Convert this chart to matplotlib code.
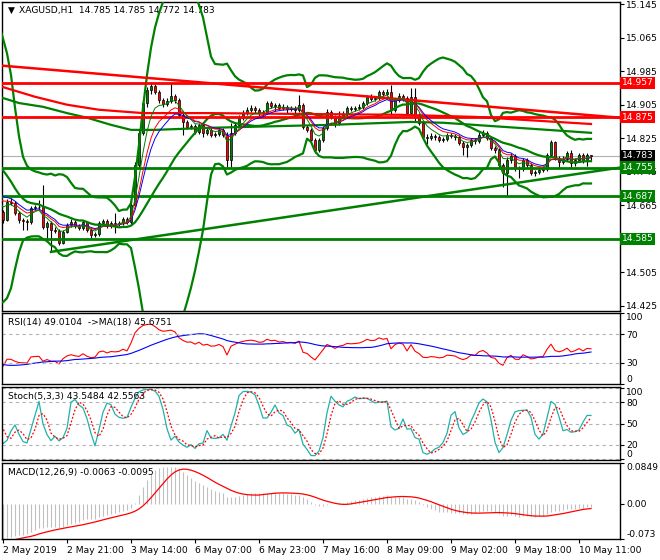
import numpy as np
import pandas as pd
import matplotlib.pyplot as plt

# bars before the visible window (1-2 May), only used to warm up the indicators
pre_close = [15.00, 15.01, 14.99, 15.00, 15.02, 15.01, 15.03, 15.02, 15.01, 15.00,
             14.99, 15.01, 15.00, 14.98, 14.99, 14.97, 14.98, 14.96, 14.97, 14.96,
             14.95, 14.93, 14.95, 14.97, 14.91, 14.84, 14.77, 14.72,
             14.70, 14.69, 14.71, 14.69, 14.68, 14.70, 14.69, 14.67, 14.68, 14.70, 14.69, 14.649]
pre_high = [15.01, 15.02, 15.02, 15.01, 15.03, 15.03, 15.04, 15.03, 15.02, 15.01,
            15.00, 15.02, 15.02, 15.00, 15.00, 14.99, 14.99, 14.98, 14.98, 14.97,
            14.97, 14.96, 14.97, 15.00, 14.97, 14.91, 14.84, 14.78,
            14.73, 14.71, 14.72, 14.72, 14.70, 14.71, 14.71, 14.70, 14.69, 14.71, 14.71, 14.70]
pre_low = [14.99, 15.00, 14.98, 14.99, 15.00, 15.00, 15.01, 15.01, 15.00, 14.99,
           14.98, 14.98, 14.99, 14.97, 14.97, 14.96, 14.96, 14.95, 14.95, 14.95,
           14.94, 14.92, 14.92, 14.94, 14.89, 14.82, 14.75, 14.70,
           14.68, 14.67, 14.68, 14.68, 14.67, 14.67, 14.68, 14.66, 14.66, 14.67, 14.68, 14.64]

# visible H1 bars, 2 May 05:00 .. 10 May 14:00
close = [14.630, 14.673, 14.671, 14.647, 14.630, 14.628, 14.625, 14.659, 14.661, 14.662,
         14.614, 14.623, 14.606, 14.604, 14.575, 14.602, 14.618, 14.625, 14.616, 14.611,
         14.625, 14.606, 14.594, 14.597, 14.623, 14.628, 14.616, 14.623, 14.621, 14.623,
         14.633, 14.625, 14.666, 14.761, 14.838, 14.909, 14.940, 14.950, 14.936, 14.916,
         14.907, 14.914, 14.926, 14.916, 14.881, 14.864, 14.852, 14.854, 14.840, 14.857,
         14.838, 14.845, 14.833, 14.835, 14.845, 14.833, 14.773, 14.838, 14.857, 14.874,
         14.885, 14.893, 14.897, 14.893, 14.885, 14.888, 14.909, 14.902, 14.905, 14.897,
         14.900, 14.895, 14.897, 14.893, 14.905, 14.852, 14.845, 14.821, 14.797, 14.821,
         14.850, 14.888, 14.876, 14.862, 14.878, 14.883, 14.897, 14.895, 14.897, 14.900,
         14.909, 14.924, 14.919, 14.921, 14.936, 14.931, 14.936, 14.893, 14.916, 14.926,
         14.921, 14.885, 14.924, 14.881, 14.862, 14.828, 14.826, 14.831, 14.828, 14.821,
         14.823, 14.833, 14.831, 14.828, 14.814, 14.804, 14.809, 14.821, 14.819, 14.833,
         14.838, 14.826, 14.802, 14.797, 14.761, 14.742, 14.773, 14.783, 14.754, 14.752,
         14.773, 14.761, 14.742, 14.745, 14.750, 14.752, 14.785, 14.816, 14.778, 14.769,
         14.776, 14.790, 14.766, 14.773, 14.785, 14.771, 14.785, 14.783]
high = [14.655, 14.679, 14.683, 14.676, 14.651, 14.635, 14.633, 14.664, 14.667, 14.678,
        14.714, 14.628, 14.627, 14.613, 14.608, 14.606, 14.623, 14.632, 14.629, 14.620,
        14.630, 14.628, 14.610, 14.602, 14.628, 14.633, 14.632, 14.628, 14.647, 14.628,
        14.638, 14.637, 14.678, 14.768, 14.845, 14.916, 14.947, 14.959, 14.955, 14.940,
        14.921, 14.920, 14.957, 14.931, 14.921, 14.886, 14.868, 14.860, 14.859, 14.862,
        14.861, 14.850, 14.849, 14.840, 14.850, 14.850, 14.840, 14.862, 14.864, 14.880,
        14.892, 14.900, 14.905, 14.902, 14.897, 14.893, 14.914, 14.913, 14.910, 14.909,
        14.906, 14.905, 14.903, 14.902, 14.928, 14.909, 14.857, 14.849, 14.825, 14.826,
        14.855, 14.895, 14.893, 14.880, 14.890, 14.890, 14.902, 14.903, 14.902, 14.906,
        14.914, 14.929, 14.930, 14.926, 14.941, 14.941, 14.942, 14.952, 14.922, 14.932,
        14.931, 14.926, 14.945, 14.945, 14.886, 14.866, 14.834, 14.838, 14.836, 14.833,
        14.828, 14.838, 14.838, 14.836, 14.833, 14.818, 14.814, 14.826, 14.826, 14.840,
        14.845, 14.843, 14.831, 14.807, 14.802, 14.766, 14.780, 14.790, 14.788, 14.760,
        14.778, 14.778, 14.766, 14.750, 14.755, 14.757, 14.790, 14.820, 14.819, 14.783,
        14.782, 14.795, 14.797, 14.778, 14.790, 14.790, 14.790, 14.785]
low = [14.624, 14.627, 14.665, 14.642, 14.622, 14.606, 14.606, 14.620, 14.654, 14.655,
       14.609, 14.578, 14.554, 14.598, 14.571, 14.572, 14.598, 14.614, 14.611, 14.606,
       14.607, 14.601, 14.587, 14.590, 14.593, 14.618, 14.611, 14.612, 14.599, 14.616,
       14.618, 14.620, 14.621, 14.662, 14.756, 14.833, 14.900, 14.930, 14.930, 14.910,
       14.900, 14.902, 14.909, 14.910, 14.876, 14.833, 14.846, 14.847, 14.835, 14.836,
       14.828, 14.833, 14.828, 14.827, 14.830, 14.828, 14.757, 14.757, 14.832, 14.852,
       14.869, 14.880, 14.888, 14.886, 14.879, 14.878, 14.883, 14.896, 14.890, 14.892,
       14.892, 14.886, 14.890, 14.886, 14.888, 14.847, 14.840, 14.816, 14.790, 14.792,
       14.816, 14.845, 14.871, 14.852, 14.857, 14.873, 14.878, 14.889, 14.890, 14.892,
       14.895, 14.904, 14.913, 14.914, 14.916, 14.926, 14.926, 14.881, 14.888, 14.911,
       14.915, 14.880, 14.880, 14.864, 14.857, 14.823, 14.812, 14.820, 14.822, 14.816,
       14.817, 14.818, 14.826, 14.822, 14.809, 14.785, 14.780, 14.804, 14.812, 14.814,
       14.828, 14.821, 14.797, 14.790, 14.755, 14.709, 14.685, 14.766, 14.748, 14.730,
       14.747, 14.756, 14.737, 14.735, 14.740, 14.745, 14.747, 14.780, 14.773, 14.754,
       14.764, 14.771, 14.754, 14.760, 14.768, 14.765, 14.760, 14.772]

# slow moving averages at a few bars
red_slow_x = [0, 8, 16, 24, 35, 52, 74, 99, 118, 147]
red_slow = [14.947, 14.924, 14.905, 14.893, 14.885, 14.885, 14.883, 14.881, 14.876, 14.859]
green_slow_x = [0, 4, 10, 16, 21, 27, 32, 38, 52, 82, 102, 110, 147]
green_slow = [14.921, 14.909, 14.900, 14.885, 14.874, 14.857, 14.845, 14.845, 14.850,
              14.857, 14.864, 14.862, 14.838]

# drawn objects
red_levels = [14.957, 14.875]
green_levels = [14.755, 14.687, 14.585]
red_trend = [14.998, 14.874]      # at bar 0 and at the right edge
green_trend = [14.554, 14.755]    # from the low of bar 12 to the right edge
last_price = 14.783

price_ticks = [14.425, 14.505, 14.585, 14.665, 14.745, 14.825, 14.905, 14.985, 15.065, 15.145]
time_ticks = [0, 16, 32, 48, 64, 80, 96, 112, 128, 144]
time_labels = ['2 May 2019', '2 May 21:00', '3 May 14:00', '6 May 07:00', '6 May 23:00',
               '7 May 16:00', '8 May 09:00', '9 May 02:00', '9 May 18:00', '10 May 11:00']

# ---- indicators
n_pre = len(pre_close)
c = pd.Series(pre_close + close)
h = pd.Series(pre_high + high)
l = pd.Series(pre_low + low)
xa = np.arange(len(c)) - n_pre

ema5 = c.ewm(span=5, adjust=False).mean()
ema8 = c.ewm(span=8, adjust=False).mean()
ema10 = c.ewm(span=10, adjust=False).mean()

mid = c.rolling(20).mean()
sd = c.rolling(20).std(ddof=0)
bb_up = mid + 3 * sd
bb_dn = mid - 3 * sd

d = c.diff()
gain = d.clip(lower=0).ewm(alpha=1 / 14, adjust=False).mean()
loss = (-d.clip(upper=0)).ewm(alpha=1 / 14, adjust=False).mean()
rsi = 100 - 100 / (1 + gain / loss)
rsi_ma = rsi.rolling(18).mean()

ll = l.rolling(5).min()
hh = h.rolling(5).max()
st_k = 100 * (c - ll).rolling(3).sum() / (hh - ll).rolling(3).sum()
st_d = st_k.rolling(3).mean()

macd = c.ewm(span=12, adjust=False).mean() - c.ewm(span=26, adjust=False).mean()
macd_sig = macd.rolling(9).mean()

# ---- figure
W, H = 660, 560
fig = plt.figure(figsize=(W / 100, H / 100), dpi=100)


def place(x0, y0, x1, y1):
    return [x0 / W, 1 - y1 / H, (x1 - x0) / W, (y1 - y0) / H]


ax = fig.add_axes(place(2, 2, 620, 311))
ax_rsi = fig.add_axes(place(2, 313, 620, 384))
ax_st = fig.add_axes(place(2, 387, 620, 460))
ax_md = fig.add_axes(place(2, 463, 620, 539))

FS = 6.6
for a in (ax, ax_rsi, ax_st, ax_md):
    a.set_xlim(-0.25, 154.25)
    a.yaxis.tick_right()
    a.tick_params(axis='y', direction='out', length=3, width=0.8, labelsize=FS, pad=1.5)
    a.tick_params(axis='x', bottom=False, labelbottom=False)
    for s in a.spines.values():
        s.set_linewidth(1.0)
        s.set_color('black')

# ---- main chart
x = np.arange(len(close))
o = np.array(pre_close[-1:] + close[:-1])
cl = np.array(close)
up = cl >= o

ax.axhline(last_price, color='#b0b0b0', lw=0.8, zorder=1)
ax.vlines(x, low, high, color='black', lw=0.8, zorder=2)
ax.bar(x[up], (cl - o)[up], bottom=o[up], width=0.7, color='#008000',
       edgecolor='black', linewidth=0.5, zorder=3)
ax.bar(x[~up], (cl - o)[~up], bottom=o[~up], width=0.7, color='#ff0000',
       edgecolor='black', linewidth=0.5, zorder=3)

for ser in (bb_up, mid, bb_dn):
    ax.plot(xa, ser, color='#008000', lw=1.6, zorder=4)
ax.plot(green_slow_x, green_slow, color='#008000', lw=1.6, zorder=4)
ax.plot(red_slow_x, red_slow, color='#ff0000', lw=1.6, zorder=4)
ax.plot(xa, ema10, color='#0000ff', lw=0.7, zorder=5)
ax.plot(xa, ema8, color='#ff0000', lw=0.7, zorder=5)
ax.plot(xa, ema5, color='#008000', lw=0.7, zorder=5)

for v in red_levels:
    ax.axhline(v, color='#ff0000', lw=2.0, zorder=4)
for v in green_levels:
    ax.axhline(v, color='#008000', lw=2.0, zorder=4)
ax.axline((0, red_trend[0]), (154.25, red_trend[1]), color='#ff0000', lw=1.8, zorder=4)
ax.plot([12, 154.25], green_trend, color='#008000', lw=1.8, zorder=4)

ax.set_ylim(14.413, 15.150)
ax.set_yticks(price_ticks)
# 14.585 sits under its own level box, as in the terminal
ax.set_yticklabels(['' if v == 14.585 else f'{v:.3f}' for v in price_ticks])

tr = ax.get_yaxis_transform()
for v, col in [(14.957, '#ff0000'), (14.875, '#ff0000'), (14.783, 'black'),
               (14.755, '#008000'), (14.687, '#008000'), (14.585, '#008000')]:
    ax.text(1.003, v, f'{v:.3f}', transform=tr, color='white', fontsize=FS, va='center',
            ha='left', clip_on=False, zorder=10,
            bbox=dict(boxstyle='square,pad=0.18', fc=col, ec='none'))

ax.text(0.009, 0.988, '\u25bc', transform=ax.transAxes, fontsize=6.5, va='top', ha='left')
ax.text(0.028, 0.988, 'XAGUSD,H1  14.785 14.785 14.772 14.783', transform=ax.transAxes,
        fontsize=FS, va='top', ha='left')

# ---- RSI
ax_rsi.plot(xa, rsi, color='#ff0000', lw=0.8)
ax_rsi.plot(xa, rsi_ma, color='#0000ff', lw=0.8)
for v in (70, 30):
    ax_rsi.axhline(v, color='#b4b4b4', lw=0.8, ls=(0, (3, 3)))
ax_rsi.set_ylim(0, 100)
ax_rsi.set_yticks([100, 70, 30, 0])
ax_rsi.set_yticklabels(['100', '70', '30', '0'])
ax_rsi.text(0.01, 0.93, 'RSI(14) 49.0104  ->MA(18) 45.6751', transform=ax_rsi.transAxes,
            fontsize=FS, va='top', ha='left')

# ---- Stochastic
for v in (100, 80, 50, 20, 0):
    ax_st.axhline(v, color='#b4b4b4', lw=0.8, ls=(0, (3, 3)))
ax_st.plot(xa, st_k, color='#20b2aa', lw=0.9)
ax_st.plot(xa, st_d, color='#ff0000', lw=0.9, ls=(0, (1.5, 1.5)))
ax_st.set_ylim(-1, 101)
ax_st.set_yticks([100, 80, 50, 20, 0])
ax_st.set_yticklabels(['100', '80', '50', '20', '0'])
ax_st.text(0.01, 0.93, 'Stoch(5,3,3) 43.5484 42.5563', transform=ax_st.transAxes,
           fontsize=FS, va='top', ha='left')

# ---- MACD
ax_md.vlines(xa, 0, macd, color='#c0c0c0', lw=0.8)
ax_md.plot(xa, macd_sig, color='#ff0000', lw=0.9)
ax_md.set_ylim(-0.073, 0.0849)
ax_md.set_yticks([0.0849, 0.0, -0.073])
ax_md.set_yticklabels(['0.0849', '0.00', '-0.073'])
ax_md.text(0.01, 0.93, 'MACD(12,26,9) -0.0063 -0.0095', transform=ax_md.transAxes,
           fontsize=FS, va='top', ha='left')

for a in (ax_rsi, ax_st, ax_md):
    lbls = a.get_yticklabels()
    lbls[0].set_va('top')
    lbls[-1].set_va('bottom')

ax_md.set_xticks(time_ticks)
ax_md.set_xticklabels(time_labels, ha='left')
ax_md.tick_params(axis='x', bottom=True, labelbottom=True, direction='out', length=3,
                  width=0.8, labelsize=FS, pad=2)

fig.savefig('out.png', dpi=100)
